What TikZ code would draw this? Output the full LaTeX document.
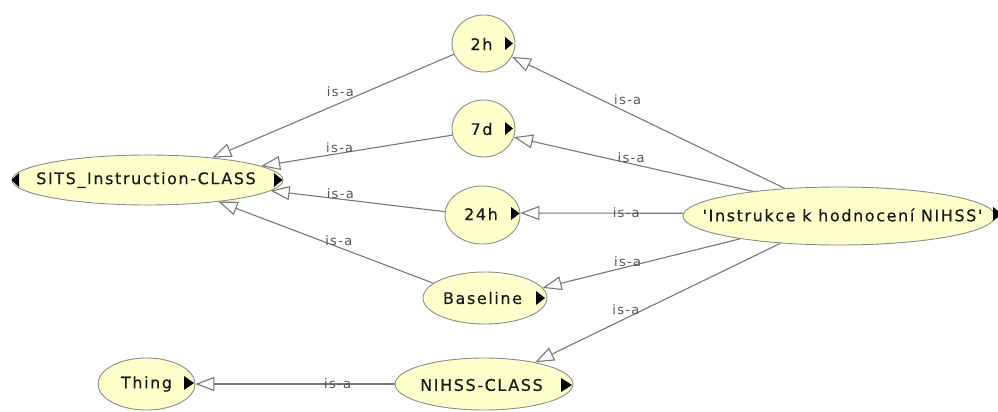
\documentclass[tikz,border=0pt]{standalone}
\usepackage{fontspec}
\newfontfamily\nodefont{DejaVu Sans}[LetterSpace=10,FakeBold=0.4]
\newfontfamily\lblfont{DejaVu Sans}[LetterSpace=10]
\usetikzlibrary{arrows.meta,shapes.geometric}
\definecolor{nodefill}{RGB}{255,255,204}
\definecolor{bordergray}{RGB}{140,140,140}
\definecolor{edgegray}{RGB}{120,120,120}
\definecolor{textcol}{RGB}{25,25,25}
\definecolor{lblcol}{RGB}{85,85,85}
\tikzset{
  cls/.style={ellipse,draw=bordergray,fill=nodefill,line width=0.9pt,inner sep=0pt},
  txt/.style={inner sep=0pt,font=\nodefont\fontsize{16}{18}\selectfont,text=textcol},
  isa/.style={draw=edgegray,line width=1.1pt,-{Triangle[length=19pt,width=14pt,fill=white]}},
  lbl/.style={inner sep=0pt,font=\lblfont\fontsize{13}{15}\selectfont,text=lblcol},
  tri/.style={fill=black}
}
\begin{document}
\begin{tikzpicture}[x=1pt,y=-1pt]
\clip (0,0) rectangle (998,412);
\fill[white] (0,0) rectangle (998,412);

% class ellipses
\node[cls,minimum width=271pt,minimum height=50pt] (sits) at (147.5,180) {};
\node[cls,minimum width=63pt,minimum height=57pt] (twoh) at (483.5,43.5) {};
\node[cls,minimum width=63pt,minimum height=57pt] (sevend) at (483.5,128.5) {};
\node[cls,minimum width=75pt,minimum height=58pt] (tfh) at (482.5,215) {};
\node[cls,minimum width=124pt,minimum height=52pt] (base) at (485,298) {};
\node[cls,minimum width=178pt,minimum height=52pt] (nihss) at (484,384) {};
\node[cls,minimum width=97pt,minimum height=52pt] (thing) at (146.5,384) {};
\node[cls,minimum width=312pt,minimum height=58pt] (instr) at (839,216) {};

% texts
\node[txt] (tsits) at (146,180) {SITS\_Instruction-CLASS};
\node[txt] (ttwoh) at (481.5,44) {2h};
\node[txt] (tsevend) at (481.5,129) {7d};
\node[txt] (ttfh) at (481,214) {24h};
\node[txt] (tbase) at (482.5,298) {Baseline};
\node[txt] (tnihss) at (481.5,385) {NIHSS-CLASS};
\node[txt] (tthing) at (146.5,384) {Thing};
\node[txt] (tinstr) at (842.5,215) {'Instrukce k hodnocení NIHSS'};

% expand markers
\fill[tri] (19,173) -- (11.5,180) -- (19,187) -- cycle;
\fill[tri] (274,173) -- (282.5,180) -- (274,187) -- cycle;
\fill[tri] (505,37) -- (513,43.5) -- (505,50) -- cycle;
\fill[tri] (505,122) -- (513,128.5) -- (505,135) -- cycle;
\fill[tri] (511,207) -- (519.5,213.5) -- (511,220) -- cycle;
\fill[tri] (536,291) -- (545,298) -- (536,305) -- cycle;
\fill[tri] (561,378) -- (572,385) -- (561,392) -- cycle;
\fill[tri] (184,376) -- (194,383) -- (184,390) -- cycle;
\fill[tri] (993,207) -- (1002,214) -- (993,221) -- cycle;

% is-a connectors
\draw[isa] (twoh.200) -- node[lbl,pos=0.47,yshift=11pt]{is-a} (sits.19.6);
\draw[isa] (sevend.192) -- node[lbl,pos=0.59,yshift=6pt]{is-a} (sits.7.5);
\draw[isa] (tfh.175.4) -- node[lbl,pos=0.6,yshift=5.5pt]{is-a} (sits.-5.4);
\draw[isa] (base.164) -- node[lbl,pos=0.44,yshift=7pt]{is-a} (sits.-17.8);

\draw[isa] (instr.153.4) -- node[lbl,pos=0.576,yshift=12.5pt]{is-a} (twoh.-25.3);
\draw[isa] (instr.164.5) -- node[lbl,pos=0.51,yshift=6pt]{is-a} (sevend.-16);
\draw[isa] (instr.179) -- node[lbl,pos=0.35,yshift=1pt]{is-a} (tfh.3);
\draw[isa] (instr.193.5) -- node[lbl,pos=0.57,yshift=5pt]{is-a} (base.10.7);
\draw[isa] (instr.205.7) -- node[lbl,pos=0.63,yshift=8.5pt]{is-a} (nihss.23.2);

\draw[isa] (nihss.180) -- node[lbl,pos=0.286]{is-a} (thing.0);
\end{tikzpicture}
\end{document}
